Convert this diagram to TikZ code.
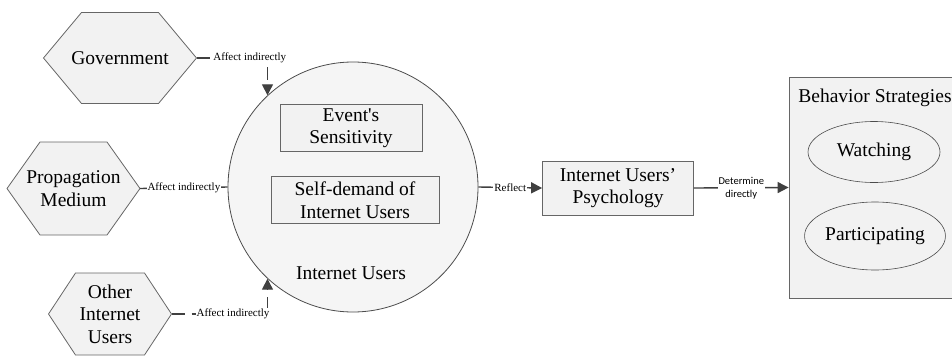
\documentclass[tikz,border=0pt]{standalone}
\usepackage{fontspec}
\setmainfont{Liberation Serif}[Ligatures=TeXOff]
\newfontfamily\labelsans{Carlito}
\usetikzlibrary{arrows.meta,shapes.geometric}

\tikzset{
    big/.style={font=\fontsize{19.5}{22.5}\selectfont, align=center},
    hexfill/.style={fill=black!5, draw=black!60, line width=0.8pt},
    hexlabel/.style={big, inner sep=0pt},
    box/.style={big, draw=black!60, fill=black!5, line width=0.8pt, inner sep=0pt},
    oval/.style={big, ellipse, draw=black!70, fill=black!5, line width=0.6pt, inner sep=0pt},
    lbl/.style={font=\fontsize{11}{13}\selectfont, fill=white, inner sep=1pt},
    conn/.style={draw=black!75, line width=1.4pt, -{Triangle[length=11pt,width=11pt]}},
    dashconn/.style={conn, dash pattern=on 13pt off 7pt}
}

% hexagon behind a node: x, y, half width, half height, tip depth
\newcommand{\hexbody}[5]{%
    \path[hexfill] (#1-#3,#2) -- (#1-#3+#5,#2-#4) -- (#1+#3-#5,#2-#4)
        -- (#1+#3,#2) -- (#1+#3-#5,#2+#4) -- (#1-#3+#5,#2+#4) -- cycle;}

\begin{document}
\begin{tikzpicture}[x=1pt, y=-1pt]
        \useasboundingbox (0,0) rectangle (952,356);
        % outside factors
        \hexbody{120}{58}{76.5}{45.5}{38}
        \node[hexlabel, minimum width=153pt, minimum height=91pt] (gov) at (120,58) {Government};
        \hexbody{73.5}{188.5}{66.5}{46.5}{33}
        \node[hexlabel, minimum width=133pt, minimum height=93pt] (prop) at (73.5,188.5) {Propagation\\Medium};
        \hexbody{110}{314}{61.5}{41}{27}
        \node[hexlabel, minimum width=123pt, minimum height=82pt] (other) at (110,314) {Other\\Internet\\Users};
        % internet users
        \node[circle, draw=black!70, fill=black!4, line width=0.8pt, minimum size=250pt] (net) at (353,187) {};
        \node[box, minimum width=142pt, minimum height=47pt] (event) at (351,128) {Event's\\Sensitivity};
        \node[box, minimum width=168pt, minimum height=47pt] (self) at (355,200) {Self-demand of\\Internet Users};
        \node[big] (netlbl) at (351,273) {Internet Users};
        % psychology and strategies
        \node[box, minimum width=151pt, minimum height=54pt] (psy) at (618,188) {Internet Users’\\Psychology};
        \node[box, minimum width=171pt, minimum height=221pt] (beh) at (874.5,187.5) {};
        \node[big] (behlbl) at (875,98) {Behavior Strategies};
        \node[oval, minimum width=132pt, minimum height=61pt] (watch) at (874,152) {Watching};
        \node[oval, minimum width=140pt, minimum height=68pt] (part) at (875,236) {Participating};

        \draw[dashconn] (gov.east) -| node[lbl, pos=0.375] {Affect indirectly} (net.133);
        \draw[dashconn, -] (prop.east) -- node[lbl] {Affect indirectly} (net.west);
        \draw[dashconn] (other.east) -| node[lbl, pos=0.32] {Affect indirectly} (net.227);
        \draw[conn] (net.east) -- node[lbl] {Reflect} (psy.west);
        \draw[conn] (psy.east) -- node[lbl, font=\labelsans\fontsize{10.5}{13}\selectfont, align=center] {Determine\\directly} (beh.west);
    \end{tikzpicture}
\end{document}
